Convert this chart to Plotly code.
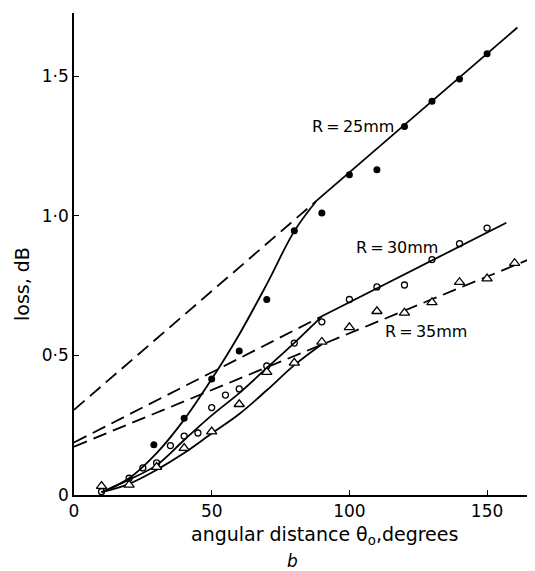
import plotly.graph_objects as go

FONT = "DejaVu Sans"

# ---- measured points (angular distance in degrees, loss in dB) ----
r25_x = [29, 40, 50, 60, 70, 80, 90, 100, 110, 120, 130, 140, 150]
r25_y = [0.18, 0.275, 0.415, 0.516, 0.70, 0.946, 1.01, 1.147, 1.165, 1.32, 1.41, 1.49, 1.58]

r30_x = [10, 20, 25, 30, 35, 40, 45, 50, 55, 60, 70, 80, 90, 100, 110, 120, 130, 140, 150]
r30_y = [0.012, 0.06, 0.097, 0.115, 0.177, 0.211, 0.222, 0.313, 0.358, 0.38, 0.462,
         0.544, 0.62, 0.70, 0.745, 0.752, 0.843, 0.90, 0.956]

r35_x = [10, 20, 30, 40, 50, 60, 70, 80, 90, 100, 110, 120, 130, 140, 150, 160]
r35_y = [0.032, 0.036, 0.10, 0.168, 0.227, 0.325, 0.44, 0.473, 0.548, 0.60, 0.658,
         0.652, 0.69, 0.762, 0.775, 0.83]

# ---- hand-drawn fitted curves ----
r25_curve_x = [10, 20, 30, 40, 50, 60, 70, 80, 88]
r25_curve_y = [0.01, 0.06, 0.15, 0.27, 0.415, 0.575, 0.755, 0.945, 1.053]
r25_line_x = [88, 161]
r25_line_y = [1.053, 1.674]
r25_dash_x = [0, 88]
r25_dash_y = [0.305, 1.053]

r30_curve_x = [10, 20, 30, 40, 50, 60, 70, 80, 90]
r30_curve_y = [0.01, 0.055, 0.107, 0.197, 0.285, 0.365, 0.455, 0.545, 0.64]
r30_line_x = [90, 157]
r30_line_y = [0.64, 0.975]
r30_dash_x = [0, 90]
r30_dash_y = [0.188, 0.64]

r35_curve_x = [10, 20, 30, 40, 50, 60, 70, 80, 90]
r35_curve_y = [0.01, 0.04, 0.09, 0.15, 0.22, 0.29, 0.375, 0.465, 0.54]
r35_dash_x = [0, 166]
r35_dash_y = [0.173, 0.847]

x_ticks = [0, 50, 100, 150]
x_tick_text = ["0", "50", "100", "150"]
y_ticks = [0, 0.5, 1.0, 1.5]
y_tick_text = ["0", "0·5", "1·0", "1·5"]

labels = ["R\u2009=\u200925mm", "R\u2009=\u200930mm", "R\u2009=\u200935mm"]

fig = go.Figure()

solid = dict(color="black", width=1.8)
dashed = dict(color="black", width=1.8, dash="14px,7px")

for cx, cy in [(r25_curve_x, r25_curve_y), (r30_curve_x, r30_curve_y), (r35_curve_x, r35_curve_y)]:
    fig.add_trace(go.Scatter(x=cx, y=cy, mode="lines",
                             line=dict(shape="spline", smoothing=1.0, **solid)))
for lx, ly in [(r25_line_x, r25_line_y), (r30_line_x, r30_line_y)]:
    fig.add_trace(go.Scatter(x=lx, y=ly, mode="lines", line=solid))
for dx, dy in [(r25_dash_x, r25_dash_y), (r30_dash_x, r30_dash_y), (r35_dash_x, r35_dash_y)]:
    fig.add_trace(go.Scatter(x=dx, y=dy, mode="lines", line=dashed))

fig.add_trace(go.Scatter(x=r25_x, y=r25_y, mode="markers",
                         marker=dict(symbol="circle", size=7, color="black")))
fig.add_trace(go.Scatter(x=r30_x, y=r30_y, mode="markers",
                         marker=dict(symbol="circle-open", size=6, color="black",
                                     line=dict(width=1.3, color="black"))))
fig.add_trace(go.Scatter(x=r35_x, y=r35_y, mode="markers",
                         marker=dict(symbol="triangle-up", size=9, color="white",
                                     line=dict(width=1.3, color="black"))))

annot_font = dict(family=FONT, size=16, color="black")
fig.add_annotation(x=101.2, y=1.321, text=labels[0], showarrow=False, font=annot_font)
fig.add_annotation(x=117.3, y=0.888, text=labels[1], showarrow=False, font=annot_font)
fig.add_annotation(x=127.8, y=0.584, text=labels[2], showarrow=False, font=annot_font)

title_font = dict(family=FONT, size=19, color="black")
fig.add_annotation(xref="paper", yref="paper", x=0.5434, y=-0.083,
                   xanchor="center", yanchor="middle",
                   text="angular distance θ<sub>o</sub>,degrees",
                   showarrow=False, font=title_font)
fig.add_annotation(xref="paper", yref="paper", x=-0.1128, y=0.4378, text="loss, dB",
                   xanchor="center", yanchor="middle",
                   textangle=-90, showarrow=False, font=title_font)
fig.add_annotation(xref="paper", yref="paper", x=0.475, y=-0.137, text="<i>b</i>",
                   xanchor="center", yanchor="middle",
                   showarrow=False, font=dict(family=FONT, size=17, color="black"))

fig.update_layout(
    width=535, height=571,
    margin=dict(l=66, r=8, t=5, b=84),
    plot_bgcolor="white", paper_bgcolor="white",
    showlegend=False,
    font=dict(family=FONT, size=17, color="black"),
    xaxis=dict(range=[0, 167.4], showline=True, linecolor="black", linewidth=1.5,
               ticks="inside", ticklen=5, tickwidth=1.3, tickcolor="black",
               tickvals=x_ticks, ticktext=x_tick_text, showgrid=False, zeroline=False),
    yaxis=dict(range=[0, 1.726], showline=True, linecolor="black", linewidth=1.5,
               ticks="inside", ticklen=5, tickwidth=1.3, tickcolor="black",
               tickvals=y_ticks, ticktext=y_tick_text, showgrid=False, zeroline=False),
)

fig.write_html("out.html")
